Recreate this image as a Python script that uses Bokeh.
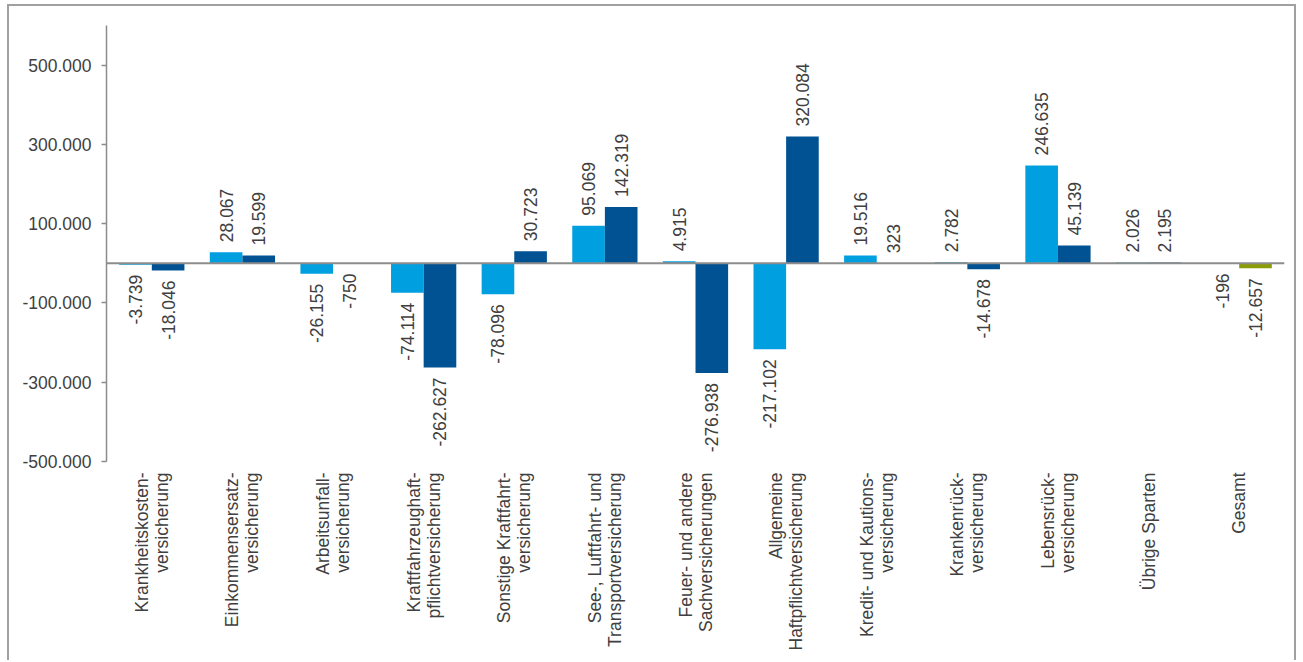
import math
from bokeh.plotting import figure
from bokeh.models import ColumnDataSource, FactorRange, Range1d, FixedTicker, Span
from bokeh.transform import dodge
from bokeh.core.properties import value
from bokeh.embed import file_html
from bokeh.resources import INLINE

categories = [
    "Krankheitskosten-\nversicherung",
    "Einkommensersatz-\nversicherung",
    "Arbeitsunfall-\nversicherung",
    "Kraftfahrzeughaft-\npflichtversicherung",
    "Sonstige Kraftfahrt-\nversicherung",
    "See-, Luftfahrt- und\nTransportversicherung",
    "Feuer- und andere\nSachversicherungen",
    "Allgemeine\nHaftpflichtversicherung",
    "Kredit- und Kautions-\nversicherung",
    "Krankenrück-\nversicherung",
    "Lebensrück-\nversicherung",
    "Übrige Sparten",
    "Gesamt",
]
series_a = [-3739, 28067, -26155, -74114, -78096, 95069, 4915, -217102, 19516, 2782, 246635, 2026, -196]
series_b = [-18046, 19599, -750, -262627, 30723, 142319, -276938, 320084, 323, -14678, 45139, 2195, -12657]

y_ticks = [-500000, -300000, -100000, 100000, 300000, 500000]
y_tick_labels = ["-500.000", "-300.000", "-100.000", "100.000", "300.000", "500.000"]

COLOR_A = "#009FDF"
COLOR_B = "#005293"
COLOR_TOTAL = "#8C9C08"
TEXT = "#404040"
AXIS = "#8C8C8C"
FONT = "Liberation Sans"
FS = "17.5px"


def fmt(v):
    return f"{v:,}".replace(",", ".")


src = ColumnDataSource(dict(
    cat=categories,
    a=series_a,
    b=series_b,
    a_lbl=[fmt(v) for v in series_a],
    b_lbl=[fmt(v) for v in series_b],
    a_align=["left" if v >= 0 else "right" for v in series_a],
    b_align=["left" if v >= 0 else "right" for v in series_b],
    a_off=[-10 if v >= 0 else 10 for v in series_a],
    b_off=[-10 if v >= 0 else 10 for v in series_b],
    b_color=[COLOR_TOTAL if c == "Gesamt" else COLOR_B for c in categories],
))

p = figure(
    x_range=FactorRange(factors=categories),
    y_range=Range1d(-500000, 600000),
    width=1289, height=656,
    output_backend="svg", toolbar_location=None,
    min_border_left=97, min_border_right=14,
    min_border_top=19, min_border_bottom=201,
)
p.styles = {
    "margin-left": "7px",
    "margin-top": "4px",
    "border-top": "2px solid #A0A0A0",
    "border-left": "2px solid #A0A0A0",
    "border-right": "2px solid #A0A0A0",
}

p.vbar(x=dodge("cat", -0.18, range=p.x_range), top="a", bottom=0, width=0.36,
       source=src, fill_color=COLOR_A, line_color=None)
p.vbar(x=dodge("cat", 0.18, range=p.x_range), top="b", bottom=0, width=0.36,
       source=src, fill_color="b_color", line_color=None)

p.add_layout(Span(location=0, dimension="width", line_color=AXIS, line_width=2))

for key, off in (("a", -0.18), ("b", 0.18)):
    p.text(x=dodge("cat", off, range=p.x_range), y=key, text=f"{key}_lbl",
           angle=math.pi / 2, text_align=f"{key}_align", text_baseline="middle",
           y_offset=f"{key}_off", source=src,
           text_font=value(FONT), text_font_size=FS, text_color=TEXT)

p.xgrid.visible = False
p.ygrid.visible = False
p.outline_line_color = None

xa = p.xaxis[0]
xa.axis_line_color = None
xa.major_tick_line_color = None
xa.minor_tick_line_color = None
xa.major_tick_out = 0
xa.major_tick_in = 0
xa.major_label_standoff = 11
xa.major_label_orientation = math.pi / 2
xa.major_label_text_font = FONT
xa.major_label_text_font_size = FS
xa.major_label_text_color = TEXT
xa.major_label_text_line_height = 1.0
xa.major_label_text_align = "center"

ya = p.yaxis[0]
ya.ticker = FixedTicker(ticks=y_ticks)
ya.major_label_overrides = dict(zip(y_ticks, y_tick_labels))
ya.axis_line_color = AXIS
ya.axis_line_width = 1.5
ya.major_tick_line_color = AXIS
ya.major_tick_line_width = 1.5
ya.major_tick_out = 5
ya.major_tick_in = 0
ya.minor_tick_line_color = None
ya.major_label_standoff = 10
ya.major_label_text_font = FONT
ya.major_label_text_font_size = FS
ya.major_label_text_color = TEXT

open("out.html", "w").write(file_html(p, INLINE))
